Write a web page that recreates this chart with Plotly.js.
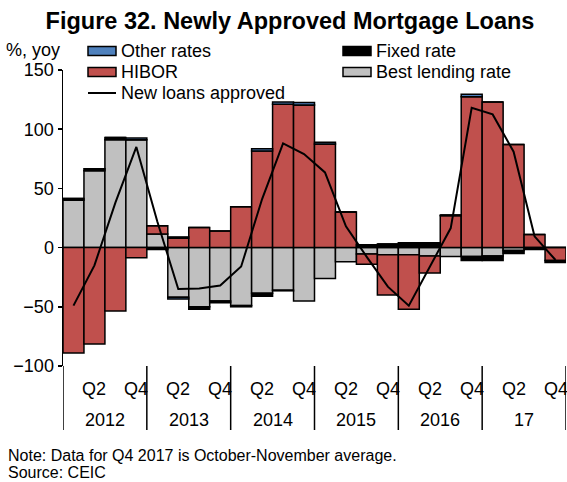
<!DOCTYPE html>
<html>
<head>
<meta charset="utf-8">
<script src="https://cdn.plot.ly/plotly-3.0.1.min.js"></script>
<style>html,body{margin:0;padding:0;background:#fff;}#chart{width:567px;height:482px;}</style>
</head>
<body>
<div id="chart"></div>
<script>
// Quarters Q1 2012 .. Q4 2017
const years = ['2012', '2013', '2014', '2015', '2016', '17'];
const quarterNames = ['Q1', 'Q2', 'Q3', 'Q4'];
const quarterTickText = ['', 'Q2', '', 'Q4'];

const bestLending = [40, 65, 91, 91, 11.5, -42, -50, -45, -49, -38.5, -36, -45, -26, -12, -5.5, -6, -6, -7, -7.5, -7.5, -7, -2.5, 0, 0];
const hibor = [-89, -81.5, -53.5, -8.5, 7, 8, 17, 14, 34.5, 81.5, 121, 120.5, 87.5, 30, -8.5, -34, -46, -14.5, 27, 127.5, 123, 87, 11, -11];
const fixedRate = [1.5, 1.5, 2, 0, -1.5, 1, -2, -1.5, -1, -2.5, -0.5, 0, 0, 0, 2.5, 3, 4, 4, 0.5, -3.5, -4, -2.5, -1.5, -1.5];
const otherRates = [0, 0, 0, 1.5, 0, -1.5, 0, 0, 0, 2, 2, 2, 1.5, 0, 0, 0, 0, 0, 0, 2, 0, 0, 0, 0];
const newLoans = [-49, -15, 38, 85, 22, -35, -34.5, -32, -16, 41, 88, 79, 63.5, 18, -8, -33, -49, -16, 16.5, 118, 112.5, 81, 9.5, -10.5];

const FONT = 'Arial, "Liberation Sans", sans-serif';
const idx = bestLending.map((_, i) => i);
const nQ = quarterNames.length;

const colors = {best: '#C0C0C0', hibor: '#C0504D', fixed: '#000000', other: '#4F81BD'};
const barLine = {color: '#000000', width: 1.5};
const traces = [
  {type: 'bar', name: 'Best lending rate', x: idx, y: bestLending, marker: {color: colors.best, line: barLine}},
  {type: 'bar', name: 'HIBOR', x: idx, y: hibor, marker: {color: colors.hibor, line: barLine}},
  {type: 'bar', name: 'Fixed rate', x: idx, y: fixedRate, marker: {color: colors.fixed, line: barLine}},
  {type: 'bar', name: 'Other rates', x: idx, y: otherRates, marker: {color: colors.other, line: barLine}},
  {type: 'scatter', mode: 'lines', name: 'New loans approved', x: idx, y: newLoans, line: {color: '#000000', width: 2}}
];

const M = {l: 63, r: 1, t: 70, b: 116};
const W = 567, H = 482;
const plotW = W - M.l - M.r;
const plotH = H - M.t - M.b;
const px = p => (p - M.l) / plotW;      // pixel x -> paper
const py = p => 1 - (p - M.t) / plotH;  // pixel y -> paper

const annotations = [];
const shapes = [];
const txt = (s, size) => ({text: s, showarrow: false, font: {family: FONT, size: size, color: '#000'}});

years.forEach((yr, k) => {
  annotations.push(Object.assign(txt(yr, 18), {xref: 'x', yref: 'paper', x: k * nQ + (nQ - 1) / 2, y: py(420), yanchor: 'middle'}));
  quarterTickText.forEach((q, j) => {
    if (q) annotations.push(Object.assign(txt(q, 18), {xref: 'x', yref: 'paper', x: k * nQ + j, y: py(389), yanchor: 'middle'}));
  });
});
for (let k = 0; k <= years.length; k++) {
  shapes.push({type: 'line', xref: 'x', yref: 'paper', x0: k * nQ - 0.5, x1: k * nQ - 0.5, y0: 0, y1: py(430), line: {color: '#000', width: 1.5}});
}
annotations.push(Object.assign(txt('%, yoy', 18), {xref: 'paper', yref: 'paper', x: px(4), y: py(50), xanchor: 'left', yanchor: 'middle'}));
annotations.push(Object.assign(txt('Note: Data for Q4 2017 is October-November average.', 16), {xref: 'paper', yref: 'paper', x: px(6), y: py(455), xanchor: 'left', yanchor: 'middle'}));
annotations.push(Object.assign(txt('Source: CEIC', 16), {xref: 'paper', yref: 'paper', x: px(6), y: py(472), xanchor: 'left', yanchor: 'middle'}));

// Legend (two columns, drawn as shapes + text)
const legendItems = [
  {name: 'Other rates', kind: 'bar', color: colors.other, col: 0, row: 0},
  {name: 'Fixed rate', kind: 'bar', color: colors.fixed, col: 1, row: 0},
  {name: 'HIBOR', kind: 'bar', color: colors.hibor, col: 0, row: 1},
  {name: 'Best lending rate', kind: 'bar', color: colors.best, col: 1, row: 1},
  {name: 'New loans approved', kind: 'line', color: '#000', col: 0, row: 2}
];
const colX = [88, 343];
const rowY = [51, 72, 93];
legendItems.forEach(it => {
  const x0 = colX[it.col], yc = rowY[it.row];
  if (it.kind === 'bar') {
    shapes.push({type: 'rect', xref: 'paper', yref: 'paper', x0: px(x0), x1: px(x0 + 28), y0: py(yc - 4.5), y1: py(yc + 4.5), fillcolor: it.color, line: {color: '#000', width: 1.5}});
  } else {
    shapes.push({type: 'line', xref: 'paper', yref: 'paper', x0: px(x0), x1: px(x0 + 28), y0: py(yc), y1: py(yc), line: {color: it.color, width: 2}});
  }
  annotations.push(Object.assign(txt(it.name, 18), {xref: 'paper', yref: 'paper', x: px(x0 + 31), y: py(yc), xanchor: 'left', yanchor: 'middle'}));
});

const layout = {
  width: W, height: H,
  margin: M,
  paper_bgcolor: '#fff', plot_bgcolor: '#fff',
  barmode: 'relative', bargap: 0,
  title: {text: '<b>Figure 32. Newly Approved Mortgage Loans</b>', x: 290 / W, xanchor: 'center', y: 1 - 21 / H, yanchor: 'middle', font: {family: FONT, size: 23.5, color: '#000'}},
  showlegend: false,
  xaxis: {range: [-0.5, idx.length - 0.5], showticklabels: false, ticks: '', showgrid: false, zeroline: false, showline: false, fixedrange: true},
  yaxis: {range: [-100, 150], tickvals: [-100, -50, 0, 50, 100, 150], ticks: 'outside', ticklen: 4, tickwidth: 1.5, tickcolor: '#000', showline: true, linecolor: '#000', linewidth: 1.5, showgrid: false, zeroline: true, zerolinecolor: '#000', zerolinewidth: 1.5, tickfont: {family: FONT, size: 18, color: '#000'}, fixedrange: true},
  annotations: annotations,
  shapes: shapes
};

Plotly.newPlot('chart', traces, layout, {displayModeBar: false, staticPlot: true});
</script>
</body>
</html>
